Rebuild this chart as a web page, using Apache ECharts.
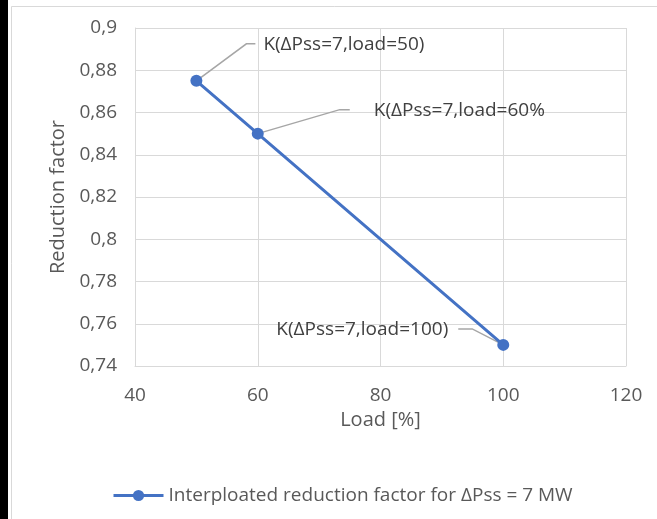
<!DOCTYPE html>
<html>
<head>
<meta charset="utf-8">
<script src="https://cdn.jsdelivr.net/npm/echarts@6/dist/echarts.min.js"></script>
<style>
html,body{margin:0;padding:0;background:#fff;}
#c{width:657px;height:519px;}
</style>
</head>
<body>
<div id="c"></div>
<script>
var loads = [50, 60, 100];
var factors = [0.875, 0.85, 0.75];
var pointLabels = ['K(\u0394Pss=7,load=50)', 'K(\u0394Pss=7,load=60%', 'K(\u0394Pss=7,load=100)'];
var seriesName = 'Interploated reduction factor for \u0394Pss = 7 MW';
var xTicks = [40, 60, 80, 100, 120];
var yTicks = [0.74, 0.76, 0.78, 0.8, 0.82, 0.84, 0.86, 0.88, 0.9];

var FONT = 'Open Sans';
// leader-line geometry relative to each point (pixels)
var leader = [
  {bx: 50, by: -37, ex: 59, tx: 67, ty: -36, align: 'left'},
  {bx: 82, by: -24, ex: 92, tx: 116, ty: -23, align: 'left'},
  {bx: -31, by: -16, ex: -45, tx: -55, ty: -15, align: 'right'}
];

var chart = echarts.init(document.getElementById('c'), null, {renderer: 'canvas'});
var pts = loads.map(function (x, i) { return [x, factors[i]]; });

chart.setOption({
  animation: false,
  backgroundColor: '#fff',
  textStyle: {fontFamily: FONT},
  graphic: [
    {type: 'rect', shape: {x: 0, y: 0, width: 8, height: 519}, style: {fill: '#000'}, z: 100},
    {type: 'rect', shape: {x: 11.5, y: 6.5, width: 700, height: 600}, style: {fill: 'none', stroke: '#d9d9d9', lineWidth: 1}, z: -1}
  ],
  grid: {left: 135, top: 28, right: 31, bottom: 153, containLabel: false},
  xAxis: {
    type: 'value', min: xTicks[0], max: xTicks[xTicks.length - 1], interval: 20,
    name: 'Load [%]', nameLocation: 'middle', nameGap: 44,
    nameTextStyle: {color: '#595959', fontSize: 20, fontFamily: FONT},
    axisLine: {show: true, lineStyle: {color: '#d9d9d9', width: 1}},
    axisTick: {show: false},
    splitLine: {show: true, lineStyle: {color: '#d9d9d9', width: 1}},
    axisLabel: {color: '#595959', fontSize: 19, margin: 20, fontFamily: FONT}
  },
  yAxis: {
    type: 'value', min: yTicks[0], max: yTicks[yTicks.length - 1], interval: 0.02,
    name: 'Reduction factor', nameLocation: 'middle', nameGap: 67, nameRotate: 90,
    nameTextStyle: {color: '#595959', fontSize: 20, fontFamily: FONT},
    axisLine: {show: true, lineStyle: {color: '#d9d9d9', width: 1}},
    axisTick: {show: false},
    splitLine: {show: true, lineStyle: {color: '#d9d9d9', width: 1}},
    axisLabel: {
      color: '#595959', fontSize: 19, margin: 18, fontFamily: FONT,
      formatter: function (v) { return String(+v.toFixed(2)).replace('.', ','); }
    }
  },
  legend: {
    bottom: 9, left: 107,
    itemWidth: 50, itemHeight: 14, itemGap: 10,
    lineStyle: {width: 3},
    textStyle: {color: '#595959', fontSize: 19, fontFamily: FONT},
    data: [seriesName]
  },
  series: [{
    type: 'custom', name: 'labels', z: 1, clip: false, silent: true,
    data: pts,
    renderItem: function (params, api) {
      var p = api.coord([api.value(0), api.value(1)]);
      var g = leader[params.dataIndex];
      return {
        type: 'group',
        children: [
          {type: 'polyline', shape: {points: [[p[0], p[1]], [p[0] + g.bx, p[1] + g.by], [p[0] + g.ex, p[1] + g.by]]},
           style: {stroke: '#a6a6a6', lineWidth: 1.5, fill: null}},
          {type: 'text', x: p[0] + g.tx, y: p[1] + g.ty,
           style: {text: pointLabels[params.dataIndex], fill: '#404040', font: '19px "Open Sans"', align: g.align, verticalAlign: 'middle'}}
        ]
      };
    }
  }, {
    type: 'line', name: seriesName, z: 3,
    data: pts,
    symbol: 'circle', symbolSize: 12,
    lineStyle: {color: '#4472c4', width: 3},
    itemStyle: {color: '#4472c4'}
  }]
});
</script>
</body>
</html>
